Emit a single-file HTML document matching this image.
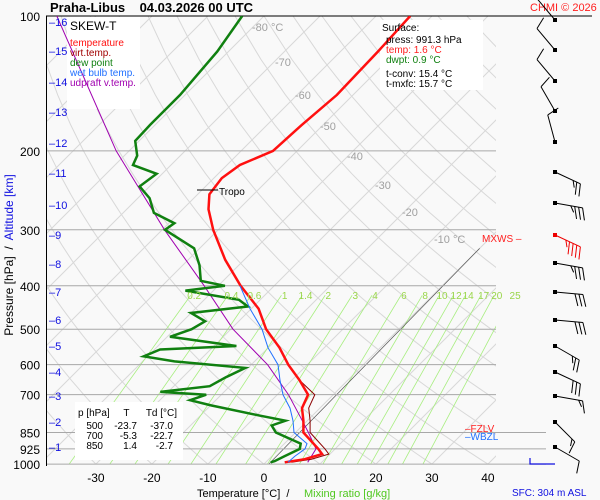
<!DOCTYPE html>
<html><head><meta charset="utf-8"><style>
body{margin:0;background:#f9f9f9;}
svg{display:block;font-family:"Liberation Sans",sans-serif;}
.pre{white-space:pre;}
</style></head><body>
<svg id="c" width="600" height="500" viewBox="0 0 600 500">
<rect width="600" height="500" fill="#f9f9f9"/>
<defs><clipPath id="pc"><rect x="46" y="16" width="450" height="448"/></clipPath></defs>
<g id="grid" clip-path="url(#pc)"></g>
<g id="isobars"></g>
<g id="boxes"></g>
<g id="series" clip-path="url(#pc)"></g>
<g id="labels"></g>
<g id="winds"></g>
</svg>
<script>
const tempP=[100,120,150,175,200,215,230,250,270,300,350,400,450,500,550,600,650,700,750,800,850,925,950,975,991];
const tempT=[-53.9,-53.3,-52.9,-53.8,-54.3,-57.7,-58.6,-57.9,-55.4,-50.9,-43.4,-36,-28.7,-23.7,-18,-13.4,-8.6,-4.5,-3.2,-0.7,1.4,7,8.6,6.4,3.4];
const dewP=[100,120,150,175,190,205,215,225,240,255,275,290,300,330,360,390,400,410,430,445,460,480,500,520,545,555,575,590,610,640,670,690,700,720,740,780,800,820,850,900,925,960,985,991];
const dewT=[-83.9,-82,-80.9,-80.9,-80.7,-77.7,-76.8,-71,-71.8,-67.9,-64.5,-59,-59.5,-51,-47,-44,-38.8,-45,-33.8,-31,-40,-36,-37,-39.5,-26,-39,-40.7,-34.3,-20.5,-22.3,-23.6,-31.4,-22.7,-24.6,-19.8,-9.3,-3.9,-5.5,-3.5,2.9,3.7,2.3,1.4,0.9];
const wbP=[400,450,500,550,600,650,700,750,800,850,900,925,960,991];
const wbX=[240,250,262,268,278,280,283,290,293,294,307,305,295,288];
const parcelP=[100,200,300,400,500,600,700,800,850,925,991];
const parcelT=[-117,-82.3,-59.6,-42.5,-29.6,-17.1,-8,-0.9,2.3,6.6,7.5];
const isobarP=[200,300,400,500,600,700,850,925,1000];
const pressLabels=[100,200,300,400,500,600,700,850,925,1000];
const xTicks=[-30,-20,-10,0,10,20,30,40];
const mixR=[0.2,0.4,0.6,1,1.4,2,3,4,6,8,10,12,14,17,20,25];
const altKm=[16,15,14,13,12,11,10,9,8,7,6,5,4,3,2,1];
const altY=[22,51,82,112,143,173,205,235,264,292,320,346,372,396,422,447];
const windY=[20,50,81,111,142,172,203,235,263,292,320,346,372,396,422,447];
const windDir=[320,320,320,330,345,115,100,115,100,95,95,120,115,100,135,120];
const windSpd=[10,10,10,10,10,25,35,45,35,30,30,25,30,15,15,10];

const NS='http://www.w3.org/2000/svg';
function yf(p){return 16+194.6*Math.log(p/100);}
function xf(T,p){return 264+5.6*T+(464-yf(p));}
function mk(tag,par,at){const e=document.createElementNS(NS,tag);for(const k in at)e.setAttribute(k,at[k]);document.getElementById(par).appendChild(e);return e;}
function pts(P,T){return P.map((p,i)=>xf(T[i],p).toFixed(1)+','+yf(p).toFixed(1)).join(' ');}
for(let T=-160;T<=40;T+=10){const e=mk('line','grid',{x1:xf(T,1000),y1:yf(1000),x2:xf(T,100),y2:yf(100),stroke:'#d8d8d8','stroke-width':1});

}
for(let th=-40;th<=200;th+=10){const P=[],T=[];for(let p=1050;p>=100;p-=25){P.push(p);T.push((th+273.15)*Math.pow(p/1000,0.286)-273.15);}
const e=mk('polyline','grid',{points:pts(P,T),fill:'none',stroke:'#d8d8d8','stroke-width':1});

}
function tdw(w,p){const e=w*p/(622+w);const l=Math.log(e/6.112);return 243.5*l/(17.67-l);}
mixR.forEach(w=>{const e=mk('line','grid',{x1:xf(tdw(w,1030),1030),y1:yf(1030),x2:xf(tdw(w,420),420),y2:yf(420),stroke:'#a8ee80','stroke-width':0.8});


const t=mk('text','labels',{x:xf(tdw(w,410),410),y:299,fill:'#9ad64a','font-size':10,'text-anchor':'middle'});t.textContent=w;

});
{const e=mk('line','grid',{x1:xf(0,1000),y1:yf(1000)+5,x2:xf(0,330),y2:yf(330),stroke:'#555','stroke-width':0.7});

}
isobarP.forEach(p=>{const e=mk('line','isobars',{x1:46,y1:yf(p),x2:p>=850?546:496,y2:yf(p),stroke:'#a8a8a8','stroke-width':1});

});
{const e=mk('line','isobars',{x1:46,y1:16,x2:592,y2:16,stroke:'#000','stroke-width':1});


const a=mk('line','isobars',{x1:46.5,y1:16,x2:46.5,y2:466,stroke:'#000','stroke-width':1});

}
{let r=mk('rect','boxes',{x:67,y:17,width:73,height:92,fill:'#fff'});
r=mk('rect','boxes',{x:380,y:20,width:103,height:70,fill:'#fff'});
r=mk('rect','boxes',{x:75,y:402,width:108,height:58,fill:'#fff'});}
{let e=mk('polyline','series',{points:pts(parcelP,parcelT),fill:'none',stroke:'#a000b0','stroke-width':1});


const vT=tempT.map((t,i)=>tempP[i]>=700?t+1.2:t);
e=mk('polyline','series',{points:pts(tempP,vT),fill:'none',stroke:'#8b0000','stroke-width':1});


e=mk('polyline','series',{points:pts(dewP,dewT),fill:'none',stroke:'#108010','stroke-width':2.5});


e=mk('polyline','series',{points:pts(tempP,tempT),fill:'none',stroke:'#ff1010','stroke-width':2.5});


const wp=wbP.map((p,i)=>wbX[i]+','+yf(p).toFixed(1)).join(' ');
e=mk('polyline','series',{points:wp,fill:'none',stroke:'#2070ff','stroke-width':1});

}
function tx(x,y,s,at,name){const t=mk('text','labels',Object.assign({x:x,y:y,'font-size':11},at));t.textContent=s;

return t;}
pressLabels.forEach(p=>tx(40,yf(p)+5,p,{'text-anchor':'end','font-size':12},'pressure-tick-label'));
xTicks.forEach(T=>tx(xf(T,1000),482,T,{'text-anchor':'middle','font-size':12},'temperature-tick-label'));
altKm.forEach((k,i)=>{tx(49,altY[i]+4,'\u2013'+k,{fill:'#1010e0','font-size':11},'altitude-tick-label');});
const isoLab=[['-80 °C',252,31],['-70',275,66],['-60',295,99],['-50',320,130],['-40',347,160],['-30',375,189],['-20',402,216],['-10 °C',434,243]];
isoLab.forEach(a=>tx(a[1],a[2],a[0],{fill:'#a0a0a0'},'isotherm-label'));
tx(70,30,'SKEW-T',{'font-size':12},'legend-title');
tx(70,46,'temperature',{fill:'#ff1010',"font-size":10},'legend-temperature');
tx(70,56,'virt.temp.',{fill:'#a00000',"font-size":10},'legend-virt-temp');
tx(70,66,'dew point',{fill:'#108010',"font-size":10},'legend-dew-point');
tx(70,76,'wet bulb temp.',{fill:'#2070ff',"font-size":10},'legend-wet-bulb');
tx(70,86,'udpraft v.temp.',{fill:'#a000b0',"font-size":10},'legend-updraft');
tx(382,31,'Surface:',{'font-size':10},'surface-title');
tx(386,43,'press: 991.3 hPa',{'font-size':10},'surface-press');
tx(386,53,'temp: 1.6 °C',{'font-size':10,fill:'#ff2020'},'surface-temp');
tx(386,63,'dwpt: 0.9 °C',{'font-size':10,fill:'#108010'},'surface-dwpt');
tx(386,77,'t-conv: 15.4 °C',{'font-size':10},'surface-tconv');
tx(386,87,'t-mxfc: 15.7 °C',{'font-size':10},'surface-tmxfc');
tx(78,416,'p [hPa]     T      Td [°C]',{'font-size':10,'class':'pre'},'table-header');
[['500','-23.7','-37.0',429],['700','-5.3','-22.7',439],['850','1.4','-2.7',449]].forEach(r=>{
tx(103,r[3],r[0],{'font-size':10,'text-anchor':'end'},'table-p');tx(137,r[3],r[1],{'font-size':10,'text-anchor':'end'},'table-t');tx(173,r[3],r[2],{'font-size':10,'text-anchor':'end'},'table-td');});
tx(50,12,'Praha-Libus    04.03.2026 00 UTC',{'font-size':13,'font-weight':'bold','class':'pre'},'chart-title');
tx(530,11,'CHMI © 2026',{'font-size':11,fill:'#ff2020'},'copyright');
tx(197,497,'Temperature [°C]  /',{'font-size':11,'class':'pre'},'x-axis-title');
tx(304,497,'Mixing ratio [g/kg]',{'font-size':11,fill:'#50c820'},'x-axis-title-mixing');
tx(512,496,'SFC: 304 m ASL',{'font-size':10,fill:'#1010e0'},'surface-height');
tx(219,195,'Tropo',{'font-size':10},'tropopause-label');
{const e=mk('line','labels',{x1:197,y1:190,x2:218,y2:190,stroke:'#000'});}
tx(482,242,'MXWS –',{'font-size':10,fill:'#ff2020'},'mxws-label');
tx(465,432,'–FZLV',{'font-size':10,fill:'#ff2020'},'fzlv-label');
tx(465,440,'–WBZL',{'font-size':10,fill:'#2070ff'},'wbzl-label');
{const g=mk('text','labels',{transform:'translate(13,255) rotate(-90)','text-anchor':'middle','font-size':12,'class':'pre'});


g.innerHTML='<tspan>Pressure [hPa]  /  </tspan><tspan fill="#1010e0">Altitude [km]</tspan>';}
windY.forEach((y,i)=>{const x=555,d=windDir[i]*Math.PI/180,L=28;
const ex=x+L*Math.sin(d),ey=y-L*Math.cos(d);const col=i==7?'#e00':'#000';
let e=mk('line','winds',{x1:x,y1:y,x2:ex,y2:ey,stroke:col,'stroke-width':1});


e=mk('rect','winds',{x:x-2,y:y-2,width:4,height:4,fill:col});


let s=windSpd[i],k=0;const ux=Math.sin(d),uy=-Math.cos(d),px=-uy,py=ux;
while(s>=5){const len=s>=10?12:6;const bx=ex-ux*k*4,by=ey-uy*k*4;
const f=mk('line','winds',{x1:bx,y1:by,x2:bx+px*len+ux*4,y2:by+py*len+uy*4,stroke:col,'stroke-width':1});


s-=s>=10?10:5;k++;}
});
{const e=mk('polyline','winds',{points:'530,458 530,464 555,464',fill:'none',stroke:'#1010e0','stroke-width':1.2});}
</script>
</body></html>
